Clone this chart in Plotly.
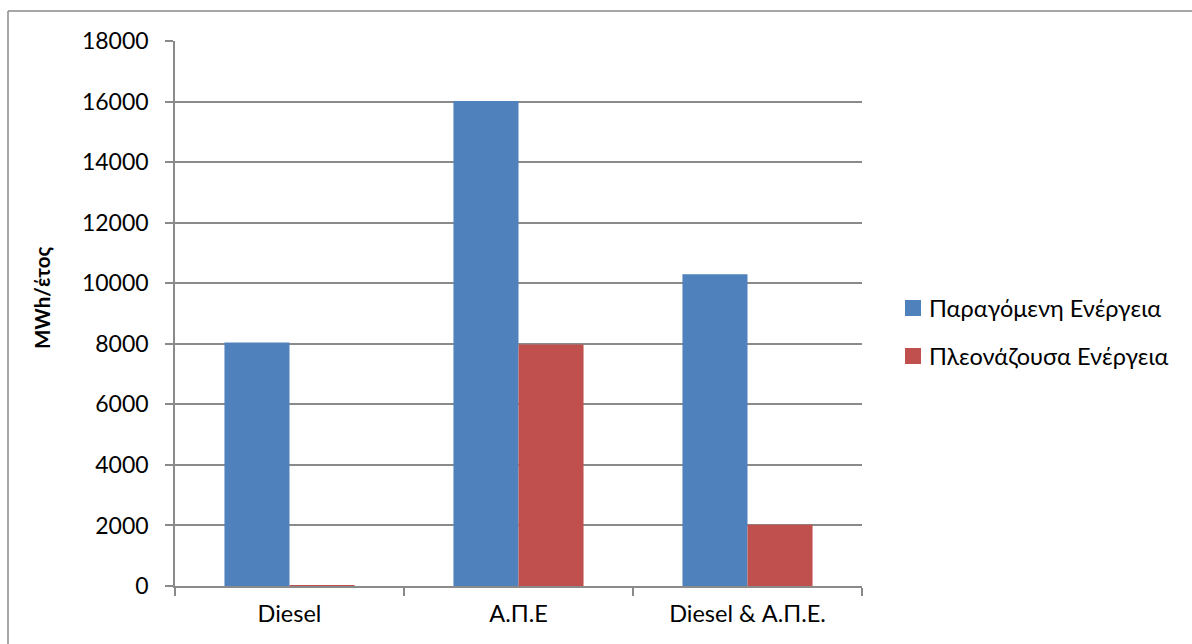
import plotly.graph_objects as go

# Annual energy per configuration (MWh/year)
categories = ["Diesel", "Α.Π.Ε", "Diesel & Α.Π.Ε."]
series_names = ["Παραγόμενη Ενέργεια", "Πλεονάζουσα Ενέργεια"]
produced = [8040, 16020, 10300]
surplus = [20, 7980, 2020]
series_colors = ["#4F81BD", "#C0504D"]
y_ticks = [0, 2000, 4000, 6000, 8000, 10000, 12000, 14000, 16000, 18000]
y_tick_labels = [str(v) for v in y_ticks]

W, H = 1192, 644
L, R, T, B = 175, 330, 41, 58
pw, ph = W - L - R, H - T - B

FONT = "Lato, 'Open Sans', sans-serif"
GRID = "#8a8a8a"

fig = go.Figure()
for name, vals, col in zip(series_names, [produced, surplus], series_colors):
    fig.add_trace(go.Bar(x=categories, y=vals, name=name, marker_color=col,
                         marker_line_width=0, showlegend=False))

fig.update_layout(
    width=W, height=H,
    margin=dict(l=L, r=R, t=T, b=B, pad=0),
    paper_bgcolor="white", plot_bgcolor="white",
    barmode="group", bargap=0.432, bargroupgap=0,
    font=dict(family=FONT, size=23, color="black"),
)
fig.update_xaxes(
    type="category", showgrid=False, showline=True, linecolor=GRID, linewidth=1.5,
    ticks="outside", tickson="boundaries", ticklen=8, tickcolor=GRID, tickwidth=1.5,
    tickfont=dict(size=23.5), ticklabelstandoff=6,
)
fig.update_yaxes(
    range=[0, 18000], tickvals=y_ticks, ticktext=y_tick_labels,
    showgrid=True, gridcolor=GRID, gridwidth=1.5,
    showline=True, linecolor=GRID, linewidth=1.5, zeroline=False,
    ticks="outside", ticklen=8, tickcolor=GRID, tickwidth=1.5,
    tickfont=dict(size=23), ticklabelstandoff=12,
)

def px_x(x):
    return (x - L) / pw

def px_y(y):
    return (H - B - y) / ph

# y-axis title
fig.add_annotation(text="<b>MWh/έτος</b>", textangle=-90, xref="paper", yref="paper",
                   x=px_x(42), y=px_y(298), showarrow=False, font=dict(size=20.5),
                   xanchor="center", yanchor="middle")

# legend swatches and labels
for i, (name, col) in enumerate(zip(series_names, series_colors)):
    cy = 308 + i * 48
    fig.add_shape(type="rect", xref="paper", yref="paper",
                  x0=px_x(905), x1=px_x(921), y0=px_y(cy - 8), y1=px_y(cy + 8),
                  fillcolor=col, line_width=0)
    fig.add_annotation(text=name, xref="paper", yref="paper", x=px_x(927), y=px_y(cy),
                       xanchor="left", yanchor="middle", showarrow=False,
                       font=dict(size=23.5))

# chart frame (left and top edges)
frame = dict(color="#8a8a8a", width=1.5)
fig.add_shape(type="line", xref="paper", yref="paper",
              x0=px_x(8), x1=px_x(8), y0=px_y(H), y1=px_y(11), line=frame)
fig.add_shape(type="line", xref="paper", yref="paper",
              x0=px_x(8), x1=px_x(W), y0=px_y(11), y1=px_y(11), line=frame)

fig.write_html("out.html")
